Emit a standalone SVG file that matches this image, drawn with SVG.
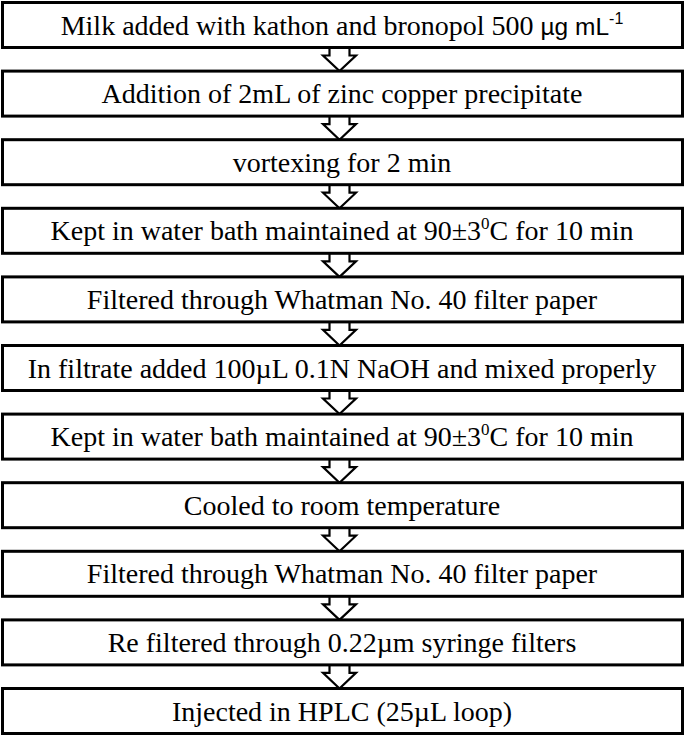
<svg xmlns="http://www.w3.org/2000/svg" width="685" height="736" viewBox="0 0 685 736">
<style>
.box{fill:#fff;stroke:#000;stroke-width:3}
.arr{fill:#fff;stroke:#000;stroke-width:2.2;stroke-linejoin:miter}
.t{font-family:"Liberation Serif","Times New Roman",serif;font-size:28px;fill:#000;text-anchor:middle}
.s{font-family:"Liberation Sans",Arial,sans-serif}
</style>
<rect width="685" height="736" fill="#fff"/>
<defs>
<path id="ar" d="M329.5 0 V8 H323 L339.5 23.6 L356 8 H349.5 V0"/>
</defs>
<g id="connectors">
<use href="#ar" class="arr" transform="translate(0,47.5)"/>
<use href="#ar" class="arr" transform="translate(0,116.1)"/>
<use href="#ar" class="arr" transform="translate(0,184.7)"/>
<use href="#ar" class="arr" transform="translate(0,253.3)"/>
<use href="#ar" class="arr" transform="translate(0,321.9)"/>
<use href="#ar" class="arr" transform="translate(0,390.5)"/>
<use href="#ar" class="arr" transform="translate(0,459.1)"/>
<use href="#ar" class="arr" transform="translate(0,527.7)"/>
<use href="#ar" class="arr" transform="translate(0,596.3)"/>
<use href="#ar" class="arr" transform="translate(0,664.9)"/>
</g>
<g id="n1"><rect class="box" x="2.5" y="2.5" width="680" height="45"/>
<text class="t" x="342" y="34.5">Milk added with kathon and bronopol 500 <tspan class="s" font-size="24.5">µg mL</tspan><tspan class="s" font-size="16" dy="-11">-1</tspan></text></g>
<g id="n2"><rect class="box" x="2.5" y="71.1" width="680" height="45"/>
<text class="t" x="342" y="103.1">Addition of 2mL of zinc copper precipitate</text></g>
<g id="n3"><rect class="box" x="2.5" y="139.7" width="680" height="45"/>
<text class="t" x="342" y="171.7">vortexing for 2 min</text></g>
<g id="n4"><rect class="box" x="2.5" y="208.3" width="680" height="45"/>
<text class="t" x="342" y="240.3">Kept in water bath maintained at 90±3<tspan font-size="17" dy="-11">0</tspan><tspan dy="11">C for 10 min</tspan></text></g>
<g id="n5"><rect class="box" x="2.5" y="276.9" width="680" height="45"/>
<text class="t" x="342" y="308.9">Filtered through Whatman No. 40 filter paper</text></g>
<g id="n6"><rect class="box" x="2.5" y="345.5" width="680" height="45"/>
<text class="t" x="342" y="377.5">In filtrate added 100µL 0.1N NaOH and mixed properly</text></g>
<g id="n7"><rect class="box" x="2.5" y="414.1" width="680" height="45"/>
<text class="t" x="342" y="446.1">Kept in water bath maintained at 90±3<tspan font-size="17" dy="-11">0</tspan><tspan dy="11">C for 10 min</tspan></text></g>
<g id="n8"><rect class="box" x="2.5" y="482.7" width="680" height="45"/>
<text class="t" x="342" y="514.7">Cooled to room temperature</text></g>
<g id="n9"><rect class="box" x="2.5" y="551.3" width="680" height="45"/>
<text class="t" x="342" y="583.3">Filtered through Whatman No. 40 filter paper</text></g>
<g id="n10"><rect class="box" x="2.5" y="619.9" width="680" height="45"/>
<text class="t" x="342" y="651.9">Re filtered through 0.22µm syringe filters</text></g>
<g id="n11"><rect class="box" x="2.5" y="688.5" width="680" height="45"/>
<text class="t" x="342" y="720.5">Injected in HPLC (25µL loop)</text></g>
</svg>
